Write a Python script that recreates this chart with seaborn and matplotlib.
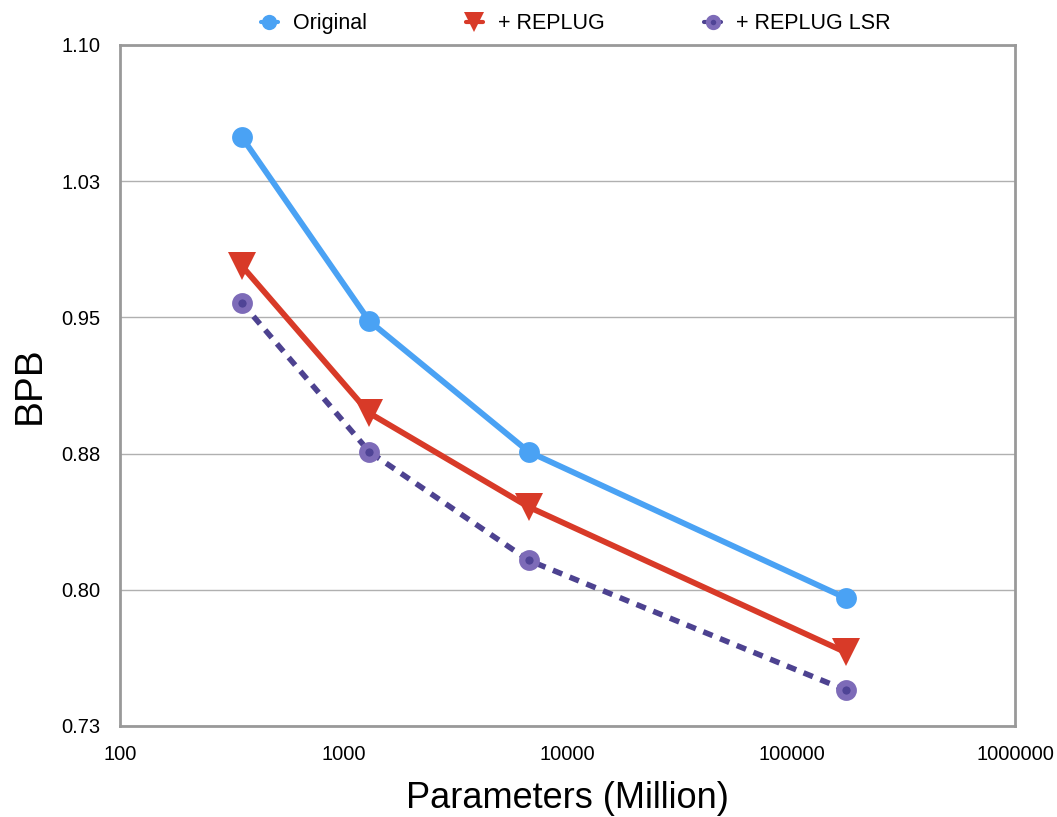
import matplotlib
matplotlib.use("Agg")
import matplotlib.pyplot as plt
import seaborn as sns
import pandas as pd
from matplotlib.lines import Line2D

# Model sizes (millions of parameters) and bits-per-byte for each setting
params = [350, 1300, 6700, 175000]
bpb_original = [1.050, 0.950, 0.879, 0.7995]
bpb_replug = [0.980, 0.900, 0.849, 0.770]
bpb_replug_lsr = [0.960, 0.879, 0.820, 0.7495]

series_names = ["Original", "+ REPLUG", "+ REPLUG LSR"]
y_ticks = [0.73, 0.804, 0.878, 0.952, 1.026, 1.10]
y_tick_labels = ["0.73", "0.80", "0.88", "0.95", "1.03", "1.10"]
x_ticks = [100, 1000, 10000, 100000, 1000000]
x_tick_labels = ["100", "1000", "10000", "100000", "1000000"]

sns.set_style("white")
plt.rcParams["font.family"] = ["Liberation Sans", "DejaVu Sans"]
plt.rcParams["text.color"] = "black"
plt.rcParams["axes.labelcolor"] = "black"
plt.rcParams["xtick.color"] = "black"
plt.rcParams["ytick.color"] = "black"

blue = "#4aa2f4"
red = "#d83a28"
purple_line = "#4d4290"
purple_face = "#7d6bb8"
purple_dot = "#4f4496"

fig = plt.figure(figsize=(10.57, 8.17), dpi=100)
ax = fig.add_axes([0.1135, 0.1114, 0.847, 0.8336])

df_o = pd.DataFrame({"x": params, "y": bpb_original})
df_r = pd.DataFrame({"x": params, "y": bpb_replug})
df_l = pd.DataFrame({"x": params, "y": bpb_replug_lsr})

sns.lineplot(data=df_l, x="x", y="y", ax=ax, color=purple_line, lw=4.0,
             marker="o", markersize=10.5, markerfacecolor=purple_dot,
             markeredgecolor=purple_face, markeredgewidth=4.5,
             dashes=(1.8, 1.45), zorder=3)
sns.lineplot(data=df_r, x="x", y="y", ax=ax, color=red, lw=4.2,
             marker="v", markersize=20, markeredgewidth=0, zorder=4)
sns.lineplot(data=df_o, x="x", y="y", ax=ax, color=blue, lw=4.2,
             marker="o", markersize=15, markeredgewidth=0, zorder=5)
for ln in ax.lines:
    ln.set_dash_capstyle("butt")

ax.set_xscale("log")
ax.set_xlim(100, 1000000)
ax.set_ylim(0.73, 1.10)
ax.set_xticks(x_ticks)
ax.set_xticklabels(x_tick_labels)
ax.minorticks_off()
ax.set_yticks(y_ticks)
ax.set_yticklabels(y_tick_labels)
ax.tick_params(axis="y", length=0, pad=14, labelsize=14.5)
ax.tick_params(axis="x", length=0, pad=14, labelsize=14.5)
for lbl in ax.get_yticklabels():
    lbl.set_verticalalignment("center_baseline")

ax.yaxis.grid(True, color="#b0b0b0", lw=1.0)
ax.xaxis.grid(False)
ax.set_axisbelow(True)
for sp in ax.spines.values():
    sp.set_color("#999999")
    sp.set_linewidth(2.0)

ax.set_xlabel("Parameters (Million)", fontsize=26, labelpad=12)
ax.set_ylabel("BPB", fontsize=28, labelpad=10)

handles = [
    Line2D([], [], color=blue, lw=3, marker="o", markersize=11, markeredgewidth=0),
    Line2D([], [], color=red, lw=3, marker="v", markersize=14, markeredgewidth=0),
    Line2D([], [], color=purple_line, lw=3, marker="o", markersize=7.5,
           markerfacecolor=purple_dot, markeredgecolor=purple_face, markeredgewidth=3.5),
]
ax.legend(handles, series_names, loc="lower center", bbox_to_anchor=(0.509, 1.0),
          ncol=3, frameon=False, fontsize=15.5, handlelength=0.8, handletextpad=0.7,
          columnspacing=4.6, borderaxespad=0.1)

fig.savefig("out.png", dpi=100)
